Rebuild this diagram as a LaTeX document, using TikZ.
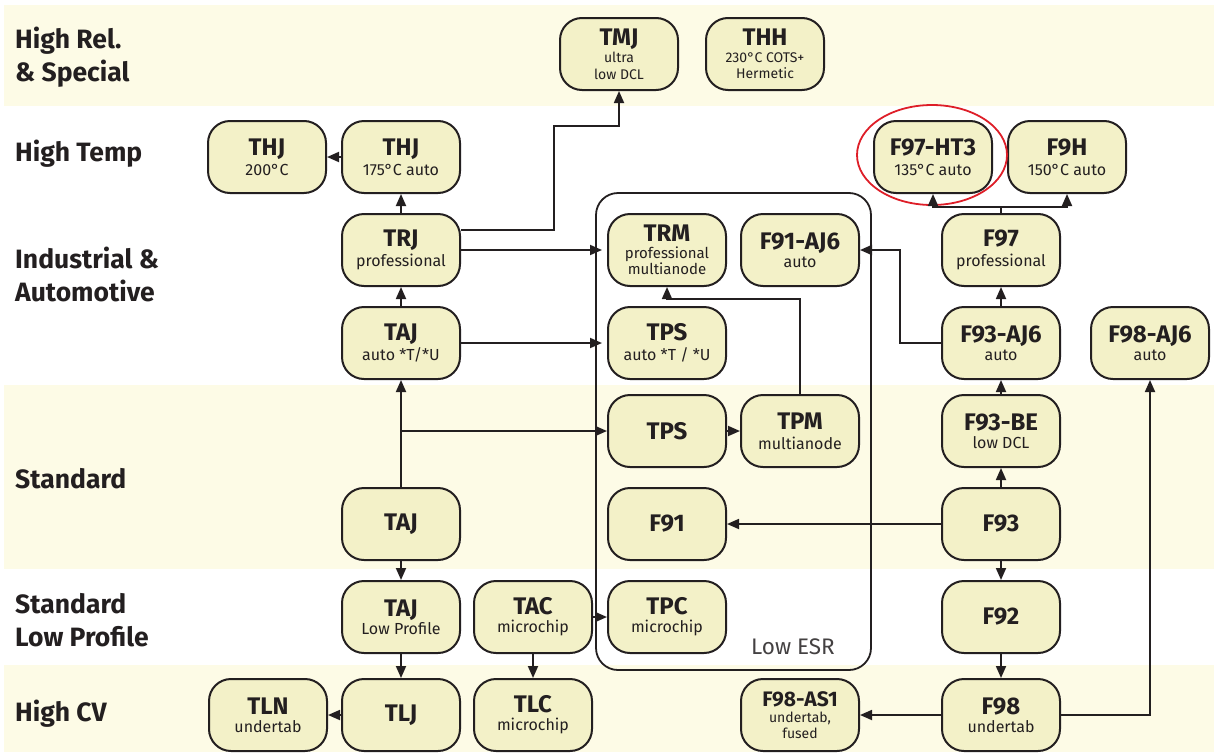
\documentclass[tikz,border=0pt]{standalone}
\usepackage{fontspec}
\setmainfont{Fira Sans}
\usetikzlibrary{arrows.meta,shapes.geometric}
\definecolor{band}{RGB}{253,251,230}
\definecolor{nodefill}{RGB}{243,241,200}
\definecolor{ink}{RGB}{35,31,32}
\definecolor{redring}{RGB}{222,30,40}
\newcommand\ttlf{\fontsize{24}{25}\selectfont\bfseries}
\newcommand\subtxt{\fontsize{16}{18}\selectfont}
\newcommand\smallsub{\fontsize{14}{16}\selectfont}
\newcommand\bandf{\fontsize{26.5}{33}\selectfont\bfseries}
\tikzset{
  pnode/.style={draw=ink, line width=2pt, fill=nodefill, rounded corners=22pt,
    minimum width=118pt, minimum height=72pt, inner sep=0pt, align=center,
    text=ink, font=\subtxt},
  conn/.style={draw=ink, line width=1.8pt, -{Triangle[length=12pt,width=10pt]}},
  plainline/.style={draw=ink, line width=1.8pt},
  bandlabel/.style={anchor=west, align=left, text=ink, font=\bandf, inner sep=0pt},
  bandbg/.style={fill=band, draw=none}
}
\begin{document}
\begin{tikzpicture}[x=1pt,y=-1pt]
\useasboundingbox (0,0) rectangle (1214,755);
% bands
\fill[bandbg] (4,5) rectangle (1214,106);
\fill[bandbg] (4,385) rectangle (1214,569);
\fill[bandbg] (4,665) rectangle (1214,752);
% band labels
\node[bandlabel] (L1) at (15,57) {High Rel.\\\& Special};
\node[bandlabel] (L2) at (15,154) {High Temp};
\node[bandlabel] (L3) at (15,274) {Industrial \&\\Automotive};
\node[bandlabel] (L4) at (15,479) {Standard};
\node[bandlabel] (L5) at (15,620) {Standard\\Low Profile};
\node[bandlabel] (L6) at (15,714) {High CV};
% Low ESR box
\draw[ink, line width=1.8pt, rounded corners=22pt] (596,193) rectangle (871,670);
\node[text=ink!85, font=\fontsize{22.5}{24}\selectfont, anchor=base] (lowesr) at (793,654) {Low ESR};
% nodes
\node[pnode, font=\smallsub] (TMJ) at (619,54) {{\ttlf TMJ}\\[1pt]ultra\\[1pt]low DCL};
\node[pnode, font=\smallsub] (THH) at (765,54) {{\ttlf THH}\\[1pt]230°C COTS+\\Hermetic};
\node[pnode] (THJa) at (267,157) {{\ttlf THJ}\\[2pt]200°C};
\node[pnode] (THJb) at (401,157) {{\ttlf THJ}\\[2pt]175°C auto};
\node[pnode] (HT3) at (933,157) {{\ttlf F97-HT3}\\[2pt]135°C auto};
\node[pnode] (F9H) at (1067,157) {{\ttlf F9H}\\[2pt]150°C auto};
\node[pnode] (TRJ) at (401,250) {{\ttlf TRJ}\\[2pt]professional};
\node[pnode, font=\smallsub] (TRM) at (667,250) {{\ttlf TRM}\\[1pt]{\fontsize{15}{17}\selectfont professional}\\{\fontsize{15}{17}\selectfont multianode}};
\node[pnode] (F91AJ6) at (800,250) {{\ttlf F91-AJ6}\\[0pt]auto};
\node[pnode] (F97) at (1001,250) {{\ttlf F97}\\[2pt]professional};
\node[pnode] (TAJa) at (401,343) {{\ttlf TAJ}\\[2pt]auto *T/*U};
\node[pnode] (TPSa) at (667,343) {{\ttlf TPS}\\[2pt]auto *T / *U};
\node[pnode] (F93AJ6) at (1001,343) {{\ttlf F93-AJ6}\\[0pt]auto};
\node[pnode] (F98AJ6) at (1150,343) {{\ttlf F98-AJ6}\\[0pt]auto};
\node[pnode] (TPS) at (667,431) {\ttlf TPS};
\node[pnode] (TPM) at (800,431) {{\ttlf TPM}\\[2pt]multianode};
\node[pnode] (F93BE) at (1001,431) {{\ttlf F93-BE}\\[0pt]low DCL};
\node[pnode] (TAJs) at (401,524) {\ttlf TAJ};
\node[pnode] (F91) at (667,524) {\ttlf F91};
\node[pnode] (F93) at (1001,524) {\ttlf F93};
\node[pnode] (TAJlp) at (401,617) {{\ttlf TAJ}\\[0pt]Low Profile};
\node[pnode] (TAC) at (533,617) {{\ttlf TAC}\\[0pt]microchip};
\node[pnode] (TPC) at (667,617) {{\ttlf TPC}\\[0pt]microchip};
\node[pnode] (F92) at (1001,617) {\ttlf F92};
\node[pnode] (TLN) at (268,715) {{\ttlf TLN}\\[0pt]undertab};
\node[pnode] (TLJ) at (401,715) {\ttlf TLJ};
\node[pnode] (TLC) at (533,715) {{\ttlf TLC}\\[0pt]microchip};
\node[pnode, font=\smallsub] (F98AS1) at (800,715) {{\fontsize{21}{21}\selectfont\bfseries F98-AS1}\\undertab,\\fused};
\node[pnode] (F98) at (1001,715) {{\ttlf F98}\\[0pt]undertab};
% red ring
\node[draw=redring, line width=1.8pt, ellipse, minimum width=150pt, minimum height=100pt] (ring) at (932,155) {};
% connectors
\draw[conn] (THJb) -- (THJa);
\draw[conn] (TRJ) -- (THJb);
\coordinate (k1) at (554,126);
\draw[conn] ([yshift=20pt]TRJ.east) -| (k1) -| (TMJ.south);
\draw[conn, shorten >=5pt] (TRJ) -- (TRM);
\draw[conn] (TAJa) -- (TRJ);
\draw[conn, shorten >=5pt] (TAJa) -- (TPSa);
\draw[conn] (TAJs) -- (TAJa);
\coordinate (k5) at (TAJs.north |- TPS.west);
\draw[conn] (k5) -- (TPS.west);
\draw[conn] (TPS) -- (TPM);
\draw[conn] (TPM.north) |- ([yshift=-12pt]TRM.south) -- (TRM.south);
\coordinate (k3) at (900,297);
\draw[conn] (F93AJ6.west) -| (k3) |- (F91AJ6.east);
\draw[conn] (F93AJ6) -- (F97);
\coordinate (k4) at (1001,207);
\draw[plainline] (F97.north) -- (k4);
\draw[conn] (k4) -| (HT3.south);
\draw[conn] (k4) -| (F9H.south);
\draw[conn] (F93BE) -- (F93AJ6);
\draw[conn] (F93) -- (F93BE);
\draw[conn] (F93) -- (F91);
\draw[conn] (F93) -- (F92);
\draw[conn] (F92) -- (F98);
\draw[conn] (F98) -- (F98AS1);
\draw[conn] (F98.east) -| (F98AJ6.south);
\draw[conn] (TAJs) -- (TAJlp);
\draw[conn] (TAJlp) -- (TLJ);
\draw[conn] (TLJ) -- (TLN);
\draw[conn] (TAC) -- (TLC);
\draw[conn] (TAC) -- (TPC);
\end{tikzpicture}
\end{document}
